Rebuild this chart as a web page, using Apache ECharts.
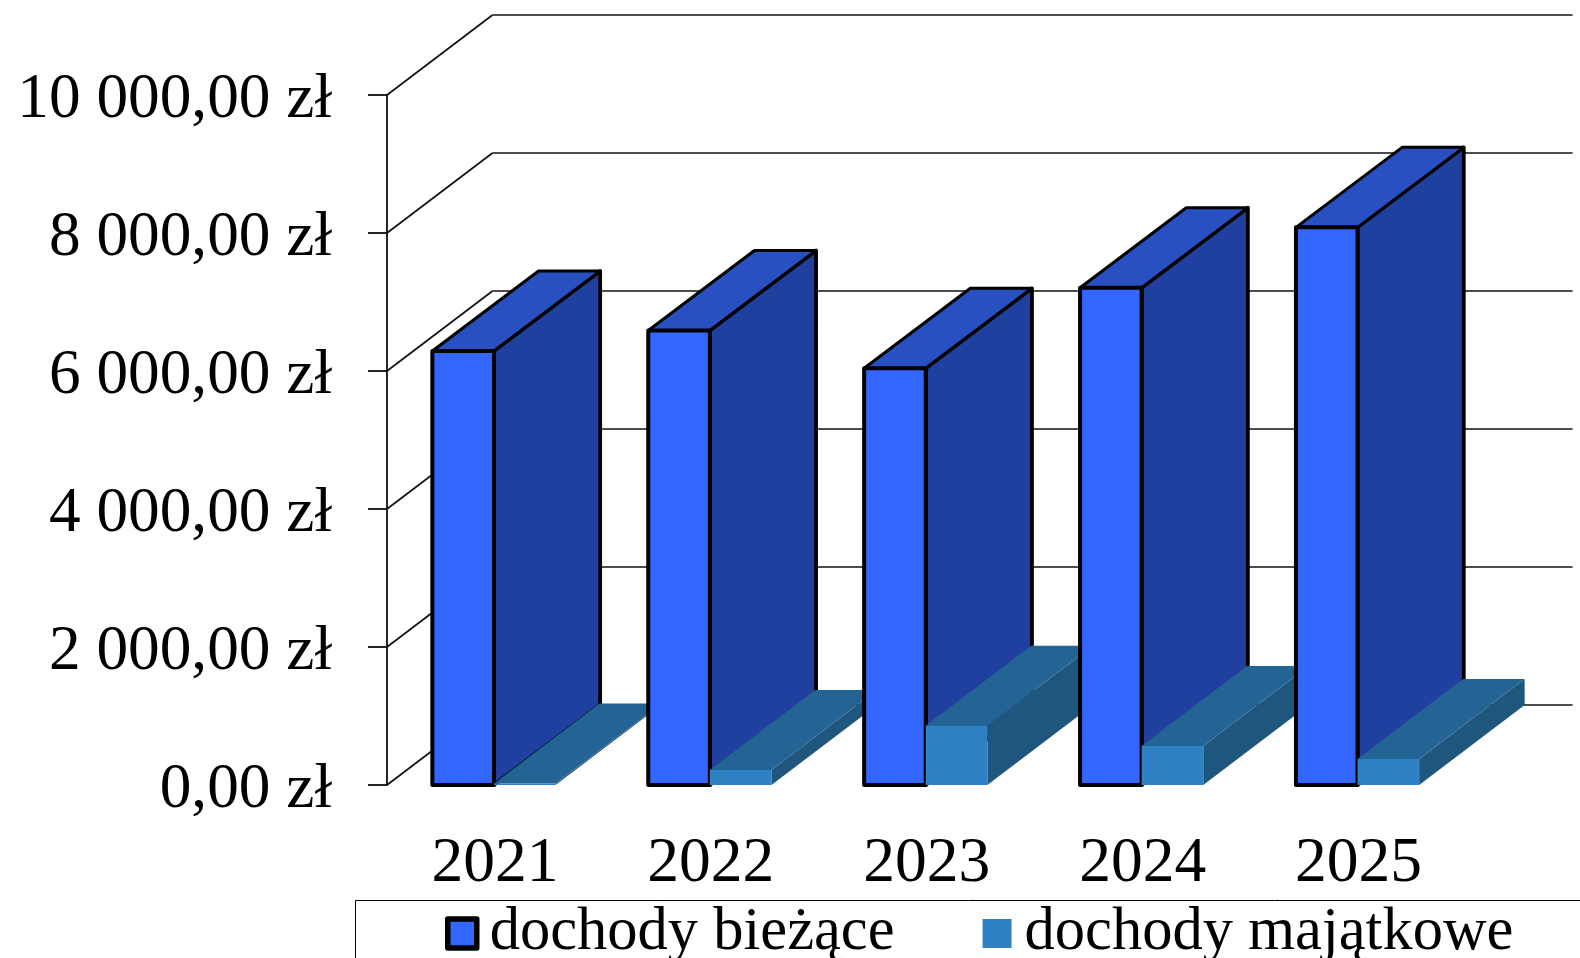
<!DOCTYPE html>
<html><head><meta charset="utf-8">
<script src="https://cdn.jsdelivr.net/npm/echarts@6/dist/echarts.min.js"></script>
<style>html,body{margin:0;padding:0;background:#fff;overflow:hidden}#c{width:1580px;height:958px}</style>
</head><body><div id="c"></div>
<script>
const categories = ['2021','2022','2023','2024','2025'];
const dochodyBiezace = [6290, 6587, 6039, 7207, 8082];
const dochodyMajatkowe = [20, 217, 860, 565, 377];
const yTicks = [0, 2000, 4000, 6000, 8000, 10000];
const yTickLabels = ['0,00 zł','2 000,00 zł','4 000,00 zł','6 000,00 zł','8 000,00 zł','10 000,00 zł'];
const nameA = 'dochody bieżące', nameB = 'dochody majątkowe';

const DX = 105.5, DY = -80, BAR = 0.2853, SHIFT = -1;
const FONT = '"Liberation Serif","Times New Roman",serif';

function poly(points, fill, stroke, lw, z2){
  return {type:'polygon', shape:{points}, z2,
    style:{fill, stroke: stroke || null, lineWidth: lw || 0, lineJoin:'round'}, silent:true};
}
function bar(side, colors, stroke, order, dx){
  return function(params, api){
    const i = api.value(0), v = api.value(1);
    const top = api.coord([i, v]), base = api.coord([i, 0]);
    const w = api.size([1,0])[0] * BAR;
    const x0 = (side < 0 ? top[0] - w : top[0]) + SHIFT, x1 = x0 + w;
    const yT = top[1], yB = base[1];
    const z = i * 10 + order;
    return {type:'group', children:[
      poly([[x1,yB],[x1+dx,yB+DY],[x1+dx,yT+DY],[x1,yT]], colors.side, stroke, 3.8, z),
      poly([[x0,yT],[x0+dx,yT+DY],[x1+dx,yT+DY],[x1,yT]], colors.top, stroke, 3, z+1),
      poly([[x0,yB],[x0,yT],[x1,yT],[x1,yB]], colors.front, stroke, 4, z+2)
    ]};
  };
}
function wall(params, api){
  const p = api.coord([0, api.value(1)]);
  const r = params.coordSys;
  const y = p[1], xL = r.x, xR = r.x + r.width;
  const st = {stroke:'#111', lineWidth:1.7, fill:null};
  return {type:'group', children:[
    {type:'line', shape:{x1:xL,y1:y,x2:xL+DX,y2:y+DY}, style:st, silent:true},
    {type:'line', shape:{x1:xL+DX,y1:y+DY,x2:xR+DX+0.5,y2:y+DY}, style:st, silent:true}
  ]};
}
const colA = {front:'#3366ff', side:'#2040a0', top:'#2850c0'};
const colB = {front:'#2e82c4', side:'#1f567e', top:'#236494'};

const chart = echarts.init(document.getElementById('c'));
chart.setOption({
  animation:false, backgroundColor:'#fff',
  grid:{left:387, top:95, width:1079.5, height:690, containLabel:false},
  xAxis:{type:'category', data:categories,
    axisLine:{show:false}, axisTick:{show:false}, splitLine:{show:false},
    axisLabel:{interval:0, margin:47, fontSize:63.5, fontFamily:FONT, color:'#000'}},
  yAxis:{type:'value', min:0, max:10000, interval:2000, splitLine:{show:false},
    axisLine:{show:true, lineStyle:{color:'#000', width:1.7}},
    axisTick:{show:true, length:19, lineStyle:{color:'#000', width:1.7}},
    axisLabel:{margin:55, fontSize:63.3, fontFamily:FONT, color:'#000',
      verticalAlign:'top', lineHeight:10,
      formatter:(v)=>yTickLabels[yTicks.indexOf(v)]}},
  legend:{left:440, top:898, itemWidth:29, itemHeight:29, itemGap:88, selectedMode:false,
    textStyle:{fontSize:60.5, fontFamily:FONT, color:'#000', padding:[0,0,0,8]},
    data:[
      {name:nameA, icon:'rect', itemStyle:{color:colA.front, borderColor:'#000', borderWidth:5.5, borderJoin:'round'}},
      {name:nameB, icon:'rect', itemStyle:{color:colB.front, borderWidth:0}}
    ]},
  graphic:[{type:'rect', shape:{x:355.5,y:900.5,width:1400,height:200},
    style:{fill:null, stroke:'#000', lineWidth:1}, silent:true, z:0}],
  series:[
    {type:'custom', name:'siatka', z:1, silent:true, renderItem:wall, coordinateSystem:'cartesian2d',
      data:yTicks.map(v=>[0,v]), encode:{x:0,y:1}},
    {type:'custom', name:nameA, z:2, renderItem:bar(-1,colA,'#000',0,DX+0.7), coordinateSystem:'cartesian2d',
      itemStyle:{color:colA.front}, data:dochodyBiezace.map((v,i)=>[i,v]), encode:{x:0,y:1}},
    {type:'custom', name:nameB, z:2, renderItem:bar(1,colB,null,5,DX), coordinateSystem:'cartesian2d',
      itemStyle:{color:colB.front}, data:dochodyMajatkowe.map((v,i)=>[i,v]), encode:{x:0,y:1}}
  ]
});
</script></body></html>
